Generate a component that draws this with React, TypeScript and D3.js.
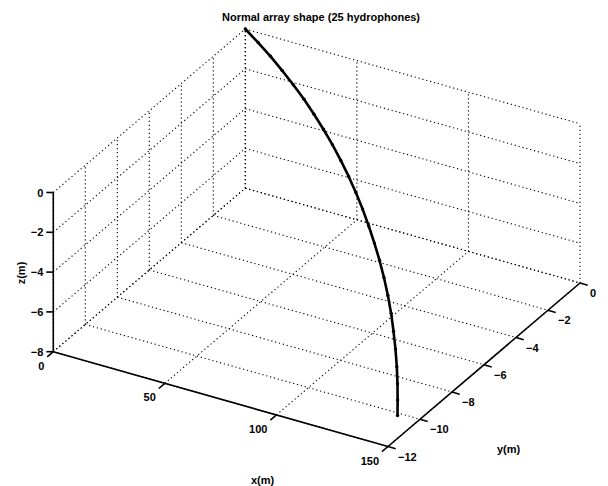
import React from 'react';
import * as d3 from 'd3';

const title = 'Normal array shape (25 hydrophones)';
const xTicks = [0, 50, 100, 150];
const yTicks = [-12, -10, -8, -6, -4, -2, 0];
const zTicks = [-8, -6, -4, -2, 0];

// hydrophone positions in metres
const hx = [0, 5.9, 11.8, 17.6, 23.5, 29.4, 35.3, 41.1, 47.0, 52.9, 58.8, 64.6, 70.5, 76.4, 82.3, 88.1, 94.0, 99.9, 105.8, 111.6, 117.5, 123.4, 129.3, 135.1, 141.0];
const hy = [0, -0.02, -0.07, -0.16, -0.28, -0.43, -0.63, -0.85, -1.11, -1.41, -1.74, -2.1, -2.5, -2.94, -3.41, -3.9, -4.44, -5.02, -5.64, -6.3, -7.0, -7.74, -8.52, -9.32, -10.15];
const hz = [0, -0.48, -0.95, -1.41, -1.86, -2.3, -2.73, -3.15, -3.56, -3.96, -4.35, -4.73, -5.1, -5.46, -5.81, -6.15, -6.47, -6.78, -7.07, -7.33, -7.56, -7.75, -7.89, -7.97, -8.0];

const W = 608;
const H = 486;

// where the corner (x=0, y=-12, z=-8) lands, and the screen vector of each full axis span
const origin = [53.3, 351.7];
const ex = [334.7, 94.8];
const ey = [192, -163.5];
const ez = [0, -159.2];

const xs = d3.scaleLinear().domain([0, 150]).range([0, 1]);
const ys = d3.scaleLinear().domain([-12, 0]).range([0, 1]);
const zs = d3.scaleLinear().domain([-8, 0]).range([0, 1]);

type P = [number, number];

function proj(x: number, y: number, z: number): P {
  const a = xs(x), b = ys(y), c = zs(z);
  return [
    origin[0] + a * ex[0] + b * ey[0] + c * ez[0],
    origin[1] + a * ex[1] + b * ey[1] + c * ez[1],
  ];
}

function unit(v: number[]): P {
  const l = Math.hypot(v[0], v[1]);
  return [v[0] / l, v[1] / l];
}

const line = d3.line<P>();
const fontFamily = '"Liberation Sans", Arial, Helvetica, sans-serif';
const minus = (v: number) => (v < 0 ? '\u2212' + Math.abs(v) : String(v));

export default function App() {
  const [x0, x1] = xs.domain();
  const [y0, y1] = ys.domain();
  const [z0, z1] = zs.domain();

  // dotted grid on the floor and the two back walls
  const grid: [P, P][] = [];
  xTicks.forEach(x => grid.push([proj(x, y0, z0), proj(x, y1, z0)]));
  yTicks.forEach(y => grid.push([proj(x0, y, z0), proj(x1, y, z0)]));
  yTicks.forEach(y => grid.push([proj(x0, y, z0), proj(x0, y, z1)]));
  zTicks.forEach(z => grid.push([proj(x0, y0, z), proj(x0, y1, z)]));
  xTicks.forEach(x => grid.push([proj(x, y1, z0), proj(x, y1, z1)]));
  zTicks.forEach(z => grid.push([proj(x0, y1, z), proj(x1, y1, z)]));

  const axes: [P, P][] = [
    [proj(x0, y0, z0), proj(x0, y0, z1)],
    [proj(x0, y0, z0), proj(x1, y0, z0)],
    [proj(x1, y0, z0), proj(x1, y1, z0)],
  ];

  const tl = 8;
  const dx = unit([-ey[0], -ey[1]]);
  const dy = unit(ex);

  const pts: P[] = hx.map((x, i) => proj(x, hy[i], hz[i]));

  return (
    <svg width={W} height={H} style={{ position: 'absolute', left: 0, top: 0, background: '#fff' }}
      fontFamily={fontFamily} fontSize={11} fontWeight="bold">
      <rect width={W} height={H} fill="#fff" />
      <g stroke="#000" strokeWidth={1.1} strokeDasharray="1.2 2.8" fill="none">
        {grid.map((s, i) => <path key={i} d={line(s) || ''} />)}
      </g>
      <g stroke="#000" strokeWidth={1.6} fill="none">
        {axes.map((s, i) => <path key={i} d={line(s) || ''} />)}
        {xTicks.map(x => {
          const p = proj(x, y0, z0);
          return <path key={'xt' + x} d={line([p, [p[0] + dx[0] * tl, p[1] + dx[1] * tl]]) || ''} />;
        })}
        {yTicks.map(y => {
          const p = proj(x1, y, z0);
          return <path key={'yt' + y} d={line([p, [p[0] + dy[0] * tl, p[1] + dy[1] * tl]]) || ''} />;
        })}
        {zTicks.map(z => {
          const p = proj(x0, y0, z);
          return <path key={'zt' + z} d={line([p, [p[0] - 7, p[1]]]) || ''} />;
        })}
      </g>
      <path d={line(pts) || ''} stroke="#000" strokeWidth={2.6} fill="none" strokeLinejoin="round" strokeLinecap="round" />
      <g fill="#000">
        {pts.map((p, i) => <circle key={i} cx={p[0]} cy={p[1]} r={1.7} />)}
      </g>
      <g fill="#000">
        {xTicks.map(x => {
          const p = proj(x, y0, z0);
          return <text key={'xl' + x} x={p[0] - 9} y={p[1] + 18} textAnchor="end">{minus(x)}</text>;
        })}
        {yTicks.map(y => {
          const p = proj(x1, y, z0);
          return <text key={'yl' + y} x={p[0] + 10} y={p[1] + 14}>{minus(y)}</text>;
        })}
        {zTicks.map(z => {
          const p = proj(x0, y0, z);
          return <text key={'zl' + z} x={p[0] - 10} y={p[1] + 4} textAnchor="end">{minus(z)}</text>;
        })}
        <text x={321} y={21} textAnchor="middle">{title}</text>
        <text x={262.5} y={483.5} textAnchor="middle">x(m)</text>
        <text x={508.5} y={452.5} textAnchor="middle">y(m)</text>
        <text transform="translate(25,273) rotate(-90)" textAnchor="middle">z(m)</text>
      </g>
    </svg>
  );
}
